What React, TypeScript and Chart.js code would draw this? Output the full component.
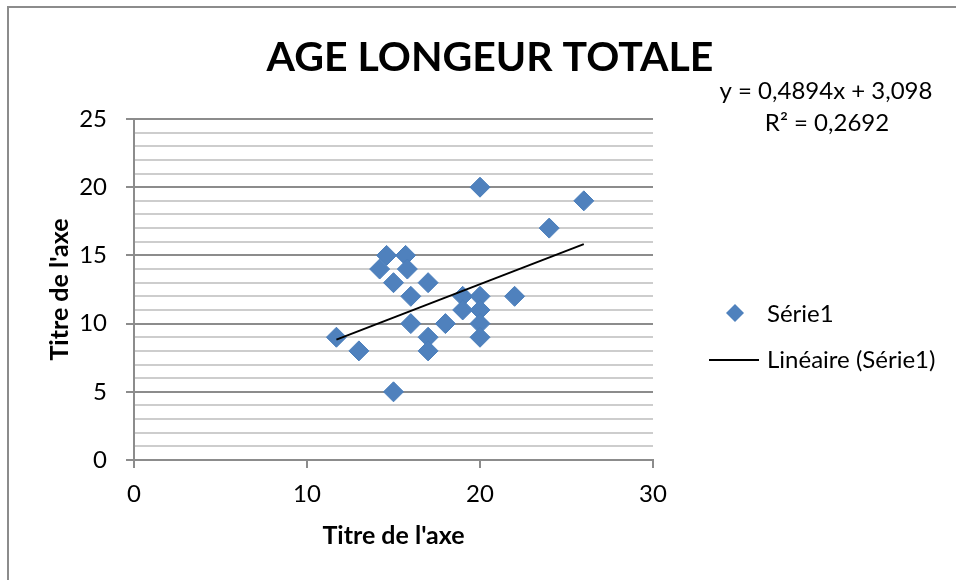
import React, { useEffect, useRef } from "react";
import { Chart, registerables } from "chart.js";

Chart.register(...registerables);

// ---- data ----
const ageX = [11.7, 13, 14.2, 14.6, 15, 15, 15.7, 15.8, 16, 16, 17, 17, 17, 18, 19, 19, 20, 20, 20, 20, 20, 22, 24, 26];
const longueurY = [9, 8, 14, 15, 13, 5, 15, 14, 12, 10, 13, 9, 8, 10, 12, 11, 20, 12, 11, 10, 9, 12, 17, 19];
const trendSlope = 0.4894;
const trendIntercept = 3.098;
const chartTitle = "AGE LONGEUR TOTALE";
const equationText = "y = 0,4894x + 3,098";
const r2Text = "R² = 0,2692";
const seriesName = "Série1";
const trendName = "Linéaire (Série1)";
const axisTitle = "Titre de l'axe";

const FONT = "Lato, 'Open Sans', sans-serif";
const BLUE = "#4f81bd";
const GRID_MAJOR = "#8c8c8c";
const GRID_MINOR = "#cdcdcd";

export default function App() {
  const canvasRef = useRef<HTMLCanvasElement | null>(null);

  useEffect(() => {
    document.body.style.margin = "0";
    const canvas = canvasRef.current;
    if (!canvas) return;

    const points = ageX.map((x, i) => ({ x, y: longueurY[i] }));
    const xMin = Math.min(...ageX);
    const xMax = Math.max(...ageX);
    const trend = [
      { x: xMin, y: trendSlope * xMin + trendIntercept },
      { x: xMax, y: trendSlope * xMax + trendIntercept },
    ];

    const decorations = {
      id: "excelDecor",
      beforeDraw(chart: any) {
        const ctx = chart.ctx as CanvasRenderingContext2D;
        ctx.save();
        ctx.strokeStyle = "#8c8c8c";
        ctx.lineWidth = 2;
        ctx.beginPath();
        ctx.moveTo(8, 580);
        ctx.lineTo(8, 7);
        ctx.lineTo(956, 7);
        ctx.stroke();
        ctx.restore();
      },
      afterDraw(chart: any) {
        const ctx = chart.ctx as CanvasRenderingContext2D;
        ctx.save();
        ctx.fillStyle = "#000";
        // title
        ctx.font = `bold 41px ${FONT}`;
        ctx.textAlign = "center";
        ctx.textBaseline = "alphabetic";
        ctx.fillText(chartTitle, 490, 71);
        // equation + R²
        ctx.font = `24px ${FONT}`;
        ctx.fillText(equationText, 826, 99);
        ctx.fillText(r2Text, 827, 131);
        // legend
        ctx.textAlign = "left";
        ctx.fillText(seriesName, 767, 322);
        ctx.fillText(trendName, 767, 368);
        ctx.fillStyle = BLUE;
        ctx.beginPath();
        ctx.moveTo(735, 304);
        ctx.lineTo(744, 313);
        ctx.lineTo(735, 322);
        ctx.lineTo(726, 313);
        ctx.closePath();
        ctx.fill();
        ctx.strokeStyle = "#000";
        ctx.lineWidth = 2;
        ctx.beginPath();
        ctx.moveTo(709, 360);
        ctx.lineTo(759, 360);
        ctx.stroke();
        ctx.restore();
      },
    };

    const chart = new Chart(canvas, {
      type: "scatter",
      data: {
        datasets: [
          {
            label: trendName,
            data: trend,
            showLine: true,
            borderColor: "#000",
            borderWidth: 2,
            pointRadius: 0,
            order: 0,
          },
          {
            label: seriesName,
            data: points,
            pointStyle: "rectRot",
            pointRadius: 10,
            backgroundColor: BLUE,
            borderColor: "#4a7ebb",
            borderWidth: 1,
            order: 1,
          },
        ],
      },
      options: {
        responsive: false,
        animation: false,
        layout: { padding: { left: 0, right: 303, top: 119, bottom: 20 } },
        plugins: {
          legend: { display: false },
          tooltip: { enabled: false },
          title: { display: false },
        },
        scales: {
          x: {
            type: "linear",
            min: 0,
            max: 30,
            afterFit: (s: any) => {
              s.height = 100;
            },
            ticks: {
              stepSize: 10,
              padding: 12,
              color: "#000",
              font: { family: FONT, size: 24 },
            },
            grid: {
              drawOnChartArea: false,
              drawTicks: true,
              tickLength: 8,
              tickColor: GRID_MAJOR,
              lineWidth: 2,
            },
            border: { display: true, color: GRID_MAJOR, width: 2 },
            title: {
              display: true,
              text: axisTitle,
              color: "#000",
              font: { family: FONT, size: 25, weight: "bold" },
              padding: { top: 0, bottom: 9 },
            },
          },
          y: {
            type: "linear",
            min: 0,
            max: 25,
            afterFit: (s: any) => {
              s.width = 134;
            },
            ticks: {
              stepSize: 1,
              autoSkip: false,
              padding: 19,
              color: "#000",
              font: { family: FONT, size: 24 },
              callback: (v: any) => (Number(v) % 5 === 0 ? String(v) : ""),
            },
            grid: {
              drawTicks: true,
              tickLength: 8,
              lineWidth: 2,
              color: (c: any) => (c.tick && c.tick.value % 5 === 0 ? GRID_MAJOR : GRID_MINOR),
              tickColor: (c: any) => (c.tick && c.tick.value % 5 === 0 ? GRID_MAJOR : "rgba(0,0,0,0)"),
            },
            border: { display: true, color: GRID_MAJOR, width: 2 },
            title: {
              display: true,
              text: axisTitle,
              color: "#000",
              font: { family: FONT, size: 25, weight: "bold" },
              padding: { top: 45, bottom: 0 },
            },
          },
        },
      },
      plugins: [decorations],
    });

    return () => {
      chart.destroy();
    };
  }, []);

  return (
    <div style={{ position: "absolute", left: 0, top: 0, width: 956, height: 580, background: "#fff" }}>
      <canvas ref={canvasRef} width={956} height={580} style={{ display: "block" }} />
    </div>
  );
}
